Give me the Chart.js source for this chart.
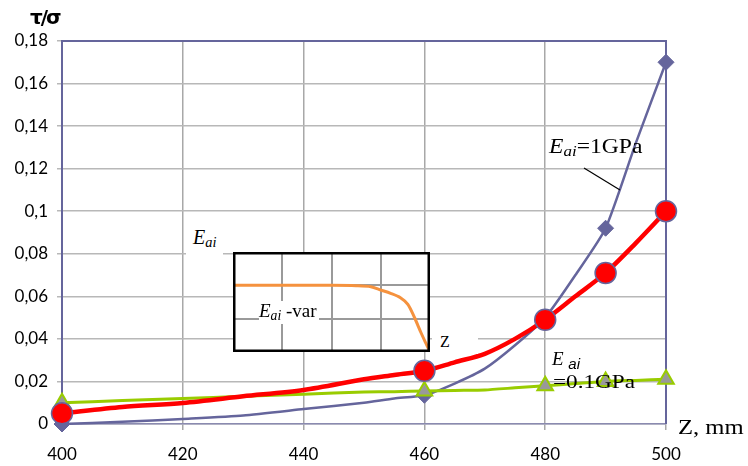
<!DOCTYPE html>
<html><head><meta charset="utf-8">
<script src="https://cdn.jsdelivr.net/npm/chart.js@4.4.1/dist/chart.umd.min.js"></script>
<style>
html,body{margin:0;padding:0;background:#fff;}
#wrap{position:relative;width:748px;height:466px;overflow:hidden;background:#fff;}
#main{position:absolute;left:0;top:0;}
#inset{position:absolute;left:233px;top:252px;}
.t{position:absolute;white-space:nowrap;line-height:1;color:#000;font-family:"Liberation Serif","DejaVu Serif",serif;}
.t i{font-style:italic;}
.t sub{font-size:0.72em;vertical-align:-0.22em;line-height:0;}
#lead{position:absolute;left:0;top:0;}
</style></head>
<body>
<div id="wrap">
<canvas id="main" width="748" height="466"></canvas>
<canvas id="inset" width="197" height="100"></canvas>
<svg id="lead" width="748" height="466"><line x1="584" y1="168" x2="620" y2="190" stroke="#000" stroke-width="1.2"/></svg>
<div class="t" style="left:30px;top:7px;font-family:'DejaVu Sans',sans-serif;font-size:20px;font-weight:bold;letter-spacing:-2px;">τ/σ</div>
<div class="t" style="left:186px;top:225px;font-size:20px;background:#fff;padding:2px 7px 8px 7px;"><i>E</i><sub><i>ai</i></sub></div>
<div class="t" style="left:259px;top:301px;font-size:19px;background:#fff;padding:0 2px 4px 0;"><i>E</i><sub><i>ai</i></sub> -var</div>
<div class="t" style="left:432px;top:328px;font-size:16px;background:#fff;padding:6px 28px 4px 8px;">Z</div>
<div class="t" style="left:549px;top:136px;font-size:20px;transform:scaleX(1.18);transform-origin:left top;"><i>E</i><sub><i>ai</i></sub>=1GPa</div>
<div class="t" style="left:552px;top:349px;font-size:19px;"><i>E</i> <span style="font-family:'Liberation Sans',sans-serif;font-style:italic;font-size:15px;position:relative;top:4px;">ai</span></div>
<div class="t" style="left:553px;top:372px;font-size:19px;transform:scaleX(1.22);transform-origin:left top;">=0.1GPa</div>
<div class="t" style="left:678px;top:416px;font-size:22px;transform:scaleX(1.12);transform-origin:left top;">Z, mm</div>
</div>
<script>
// ---- data ----
const zValues   = [400,410,420,430,440,450,455,460,465,470,475,480,485,490,495,500];
const seriesHard = [0,0.001,0.0024,0.004,0.007,0.010,0.012,0.0135,0.019,0.026,0.037,0.050,0.070,0.092,0.132,0.170]; // Eai = 1GPa
const seriesVar  = [0.005,0.008,0.0099,0.013,0.016,0.021,0.023,0.025,0.029,0.033,0.040,0.049,0.060,0.071,0.085,0.100]; // Eai - var
const seriesSoft = [0.010,0.011,0.012,0.013,0.014,0.015,0.0152,0.0155,0.0158,0.016,0.017,0.018,0.019,0.020,0.0205,0.021]; // Eai = 0.1GPa
const markerZ   = [400,460,480,490,500];
const xTicks    = [400,420,440,460,480,500];
const yTicks    = [0,0.02,0.04,0.06,0.08,0.1,0.12,0.14,0.16,0.18];
const insetX    = [0,1,2,2.5,2.8,3.0,3.2,3.4,3.55,3.68,3.82,3.92,4];
const insetY    = [2,2,2,1.99,1.96,1.86,1.76,1.63,1.43,1.05,0.57,0.25,0];

const purple = '#65659c';
const toXY = arr => zValues.map((z,i)=>({x:z,y:arr[i]}));
const rad = r => ctx => (ctx.raw && markerZ.includes(ctx.raw.x)) ? r : 0;

const framePlugin = {
  id:'frame',
  beforeDatasetsDraw(chart){
    const {ctx, chartArea:a} = chart;
    ctx.save();
    ctx.strokeStyle = purple; ctx.lineWidth = 2;
    ctx.beginPath();
    ctx.moveTo(a.left, a.top); ctx.lineTo(a.right, a.top); ctx.lineTo(a.right, a.bottom);
    ctx.stroke();
    ctx.restore();
  }
};

new Chart(document.getElementById('main'), {
  type:'line',
  data:{
    datasets:[
      {label:'var', data:toXY(seriesVar), borderColor:'#ff0000', borderWidth:4.5, tension:0.3,
       pointStyle:'circle', pointRadius:rad(10.5), pointBackgroundColor:'#ff0000', pointBorderColor:purple, pointBorderWidth:1.5, clip:false},
      {label:'soft', data:toXY(seriesSoft), borderColor:'#99cc00', borderWidth:3, tension:0.2,
       pointStyle:'triangle', pointRadius:rad(9), pointBackgroundColor:'#999999', pointBorderColor:'#99cc00', pointBorderWidth:2, clip:false},
      {label:'hard', data:toXY(seriesHard), borderColor:purple, borderWidth:2.5, tension:0.2,
       pointStyle:'rectRot', pointRadius:rad(8), pointBackgroundColor:purple, pointBorderColor:purple, pointBorderWidth:1, clip:false}
    ]
  },
  options:{
    responsive:false, animation:false, devicePixelRatio:1,
    layout:{padding:{left:0,top:41,right:82,bottom:0}},
    plugins:{legend:{display:false}, tooltip:{enabled:false}},
    scales:{
      x:{type:'linear', min:400, max:500,
         afterBuildTicks:s=>{s.ticks = xTicks.map(v=>({value:v}));},
         afterFit:s=>{s.height = 42;},
         grid:{color:'#a8a8a8', lineWidth:1.5, tickLength:6, drawOnChartArea:true},
         border:{color:'#8a8ab0', width:1.5},
         ticks:{color:'#000', font:{family:'Lato', size:17}, padding:14, maxRotation:0, callback:v=>String(v)}},
      y:{type:'linear', min:0, max:0.18,
         afterBuildTicks:s=>{s.ticks = yTicks.map(v=>({value:v}));},
         afterFit:s=>{s.width = 62;},
         grid:{color:'#b8b8b8', lineWidth:1.5, tickLength:5},
         border:{color:purple, width:2},
         ticks:{color:'#000', font:{family:'Lato', size:17}, padding:9,
                callback:v=>String(Math.round(v*100)/100).replace('.',',')}}
    }
  },
  plugins:[framePlugin]
});

const insetPlugin = {
  id:'insetFrame',
  beforeDraw(chart){
    const {ctx,width,height} = chart;
    ctx.save(); ctx.fillStyle='#fff'; ctx.fillRect(0,0,width,height); ctx.restore();
  },
  afterDraw(chart){
    const {ctx,width,height} = chart;
    ctx.save(); ctx.strokeStyle='#000'; ctx.lineWidth=2.5;
    ctx.strokeRect(1.25,1.25,width-2.5,height-2.5); ctx.restore();
  }
};

new Chart(document.getElementById('inset'), {
  type:'line',
  data:{datasets:[{data:insetX.map((x,i)=>({x:x,y:insetY[i]})), borderColor:'#f5923e', borderWidth:3,
        tension:0.3, pointRadius:0, clip:false}]},
  options:{
    responsive:false, animation:false, devicePixelRatio:1,
    layout:{padding:0},
    plugins:{legend:{display:false}, tooltip:{enabled:false}},
    scales:{
      x:{type:'linear', min:0, max:4, afterBuildTicks:s=>{s.ticks=[0,1,2,3,4].map(v=>({value:v}));},
         afterFit:s=>{s.height=0;}, ticks:{display:false}, grid:{color:'#9a9a9a', lineWidth:2, drawTicks:false}, border:{display:false}},
      y:{type:'linear', min:0, max:3, afterBuildTicks:s=>{s.ticks=[0,1,2,3].map(v=>({value:v}));},
         afterFit:s=>{s.width=0;}, ticks:{display:false}, grid:{color:'#9a9a9a', lineWidth:2, drawTicks:false}, border:{display:false}}
    }
  },
  plugins:[insetPlugin]
});
</script>
</body></html>
